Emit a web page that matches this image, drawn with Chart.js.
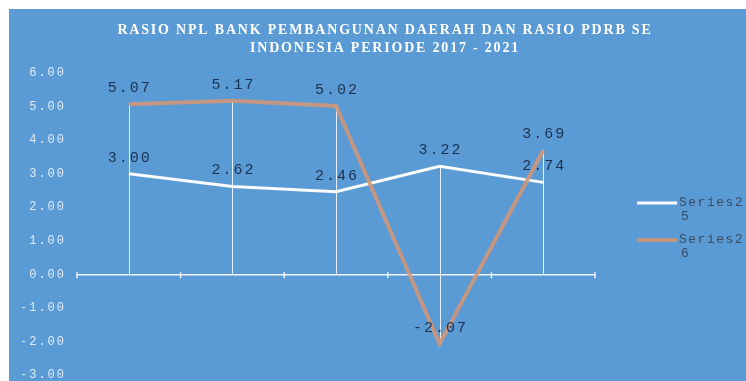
<!DOCTYPE html>
<html>
<head>
<meta charset="utf-8">
<script src="https://cdn.jsdelivr.net/npm/chart.js@4/dist/chart.umd.min.js"></script>
<style>
  html, body { margin: 0; padding: 0; background: #ffffff; }
  #box {
    position: absolute;
    left: 9px;
    top: 9px;
    width: 737px;
    height: 372px;
    background: #5b9bd5;
  }
</style>
</head>
<body>
<div id="box"><canvas id="chart" width="737" height="372"></canvas></div>
<script>
const titleLines = [
  "RASIO NPL BANK PEMBANGUNAN DAERAH DAN RASIO PDRB SE",
  "INDONESIA PERIODE 2017 - 2021",
];
const categories = ["2017", "2018", "2019", "2020", "2021"];
const seriesNames = ["Series25", "Series26"];
const series25 = [3.0, 2.62, 2.46, 3.22, 2.74];
const series26 = [5.07, 5.17, 5.02, -2.07, 3.69];
const yMin = -3;
const yMax = 6;

const whiteLine = "rgba(255,255,255,0.97)";
const orangeLine = "rgba(210,150,118,0.88)";

// title drawn by hand so the letter spacing can match
const titlePlugin = {
  id: "titleText",
  afterDraw(chart) {
    const ctx = chart.ctx;
    ctx.save();
    ctx.font = "bold 14px 'Liberation Serif'";
    ctx.letterSpacing = "1.8px";
    ctx.fillStyle = "#ffffff";
    ctx.textAlign = "center";
    ctx.textBaseline = "middle";
    titleLines.forEach((t, i) => ctx.fillText(t, 376, 21 + i * 18));
    ctx.restore();
  },
};

// vertical drop lines and the small ticks on the zero line
const dropLines = {
  id: "dropLines",
  beforeDatasetsDraw(chart) {
    const ctx = chart.ctx;
    const x = chart.scales.x;
    const y = chart.scales.y;
    const y0 = y.getPixelForValue(0);
    ctx.save();
    ctx.strokeStyle = "rgba(255,255,255,0.85)";
    ctx.lineWidth = 1;
    categories.forEach((c, i) => {
      const vals = [series25[i], series26[i], 0];
      const px = Math.round(x.getPixelForValue(i)) + 0.5;
      ctx.beginPath();
      ctx.moveTo(px, y.getPixelForValue(Math.max(...vals)));
      ctx.lineTo(px, y.getPixelForValue(Math.min(...vals)));
      ctx.stroke();
    });
    ctx.lineWidth = 1.5;
    ctx.strokeStyle = "rgba(255,255,255,0.9)";
    for (let i = 0; i <= categories.length; i++) {
      const px = x.left + (x.right - x.left) * i / categories.length;
      ctx.beginPath();
      ctx.moveTo(px, y0 - 2);
      ctx.lineTo(px, y0 + 4);
      ctx.stroke();
    }
    ctx.restore();
  },
};

const valueLabels = {
  id: "valueLabels",
  afterDatasetsDraw(chart) {
    const ctx = chart.ctx;
    ctx.save();
    ctx.font = "15px 'Liberation Mono'";
    ctx.letterSpacing = "2px";
    ctx.fillStyle = "#1c3150";
    ctx.textAlign = "center";
    ctx.textBaseline = "middle";
    chart.data.datasets.forEach((ds, di) => {
      chart.getDatasetMeta(di).data.forEach((pt, i) => {
        ctx.fillText(ds.data[i].toFixed(2), pt.x + 1, pt.y - 16);
      });
    });
    ctx.restore();
  },
};

const sideLegend = {
  id: "sideLegend",
  afterDraw(chart) {
    const ctx = chart.ctx;
    ctx.save();
    ctx.font = "13px 'Liberation Mono'";
    ctx.letterSpacing = "1.5px";
    ctx.textBaseline = "middle";
    chart.data.datasets.forEach((ds, i) => {
      const top = 194 + i * 37;
      ctx.strokeStyle = ds.borderColor;
      ctx.lineWidth = ds.borderWidth;
      ctx.beginPath();
      ctx.moveTo(628, top);
      ctx.lineTo(668, top);
      ctx.stroke();
      ctx.fillStyle = "#3a4c62";
      ctx.fillText(ds.label.slice(0, 7), 670, top);
      ctx.fillText(ds.label.slice(7), 672, top + 14);
    });
    ctx.restore();
  },
};

// spacing for the axis tick text
const tickSpacing = {
  id: "tickSpacing",
  beforeDraw(chart) { chart.ctx.letterSpacing = "2px"; },
  afterDraw(chart) { chart.ctx.letterSpacing = "0px"; },
};

new Chart(document.getElementById("chart"), {
  type: "line",
  data: {
    labels: categories,
    datasets: [
      {
        label: seriesNames[0],
        data: series25,
        borderColor: whiteLine,
        borderWidth: 3,
        pointRadius: 0,
        tension: 0,
        order: 1,
      },
      {
        label: seriesNames[1],
        data: series26,
        borderColor: orangeLine,
        borderWidth: 4,
        pointRadius: 0,
        tension: 0,
        order: 0,
      },
    ],
  },
  options: {
    responsive: false,
    animation: false,
    layout: { padding: { left: 9, right: 151, top: 64, bottom: 6 } },
    plugins: {
      legend: { display: false },
      title: { display: false },
      tooltip: { enabled: false },
    },
    scales: {
      x: {
        type: "category",
        display: false,
        offset: true,
        ticks: { display: false },
      },
      y: {
        min: yMin,
        max: yMax,
        afterFit: (s) => { s.width = 59; },
        border: { display: false },
        grid: {
          drawTicks: true,
          tickLength: 11,
          tickColor: "rgba(0,0,0,0)",
          lineWidth: 1.5,
          color: (c) => (c.tick && c.tick.value === 0 ? "rgba(255,255,255,0.9)" : "rgba(0,0,0,0)"),
        },
        ticks: {
          stepSize: 1,
          padding: 0,
          color: "rgba(236,243,251,0.92)",
          font: { family: "'Liberation Mono'", size: 12, lineHeight: 1 },
          callback: (v) => Number(v).toFixed(2),
        },
      },
    },
  },
  plugins: [tickSpacing, dropLines, valueLabels, titlePlugin, sideLegend],
});
</script>
</body>
</html>
